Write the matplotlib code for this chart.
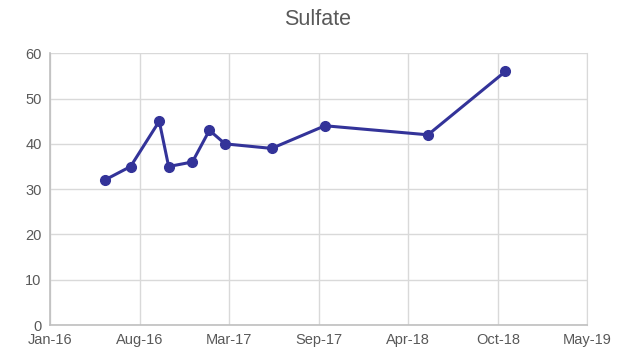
import numpy as np
import matplotlib.pyplot as plt
import matplotlib.dates as mdates

plt.rcParams['font.family'] = ['Liberation Sans', 'DejaVu Sans']

# sample dates and sulfate readings
fechas = ['2016-06-01', '2016-07-29', '2016-10-01', '2016-10-22', '2016-12-14',
          '2017-01-21', '2017-02-25', '2017-06-09', '2017-10-06', '2018-05-24',
          '2018-11-13']
sulfato = [32, 35, 45, 35, 36, 43, 40, 39, 44, 42, 56]

fechas = np.array(fechas, dtype='datetime64[D]')
x_min = np.datetime64('2016-01-31')
x_max = np.datetime64('2019-05-14')
ticks_x = np.arange(x_min, x_max + np.timedelta64(10, 'D'), np.timedelta64(200, 'D'))

fig = plt.figure(figsize=(6.35, 3.57), dpi=100)
ax = fig.add_axes([0.0787, 0.0896, 0.925 - 0.0787, 0.8507 - 0.0896])

ax.plot(fechas, sulfato, '-o', color='#333399', linewidth=2.2,
        markersize=7, zorder=3)

ax.set_xlim(x_min, x_max)
ax.set_ylim(0, 60)
ax.set_xticks(ticks_x)
ax.xaxis.set_major_formatter(mdates.DateFormatter('%b-%y'))
ax.set_yticks(range(0, 61, 10))

ax.grid(True, color='#d9d9d9', linewidth=1)
ax.set_axisbelow(True)
ax.spines['top'].set_visible(False)
ax.spines['right'].set_color('#d9d9d9')
ax.spines['left'].set_color('#bfbfbf')
ax.spines['bottom'].set_color('#bfbfbf')
ax.spines['left'].set_linewidth(1.2)
ax.spines['bottom'].set_linewidth(1.2)
ax.tick_params(length=0, labelsize=10.5, colors='#595959', pad=6)

fig.suptitle('Sulfate', x=0.5, y=0.975, fontsize=15.5, color='#595959')

fig.savefig('out.png', dpi=100)
